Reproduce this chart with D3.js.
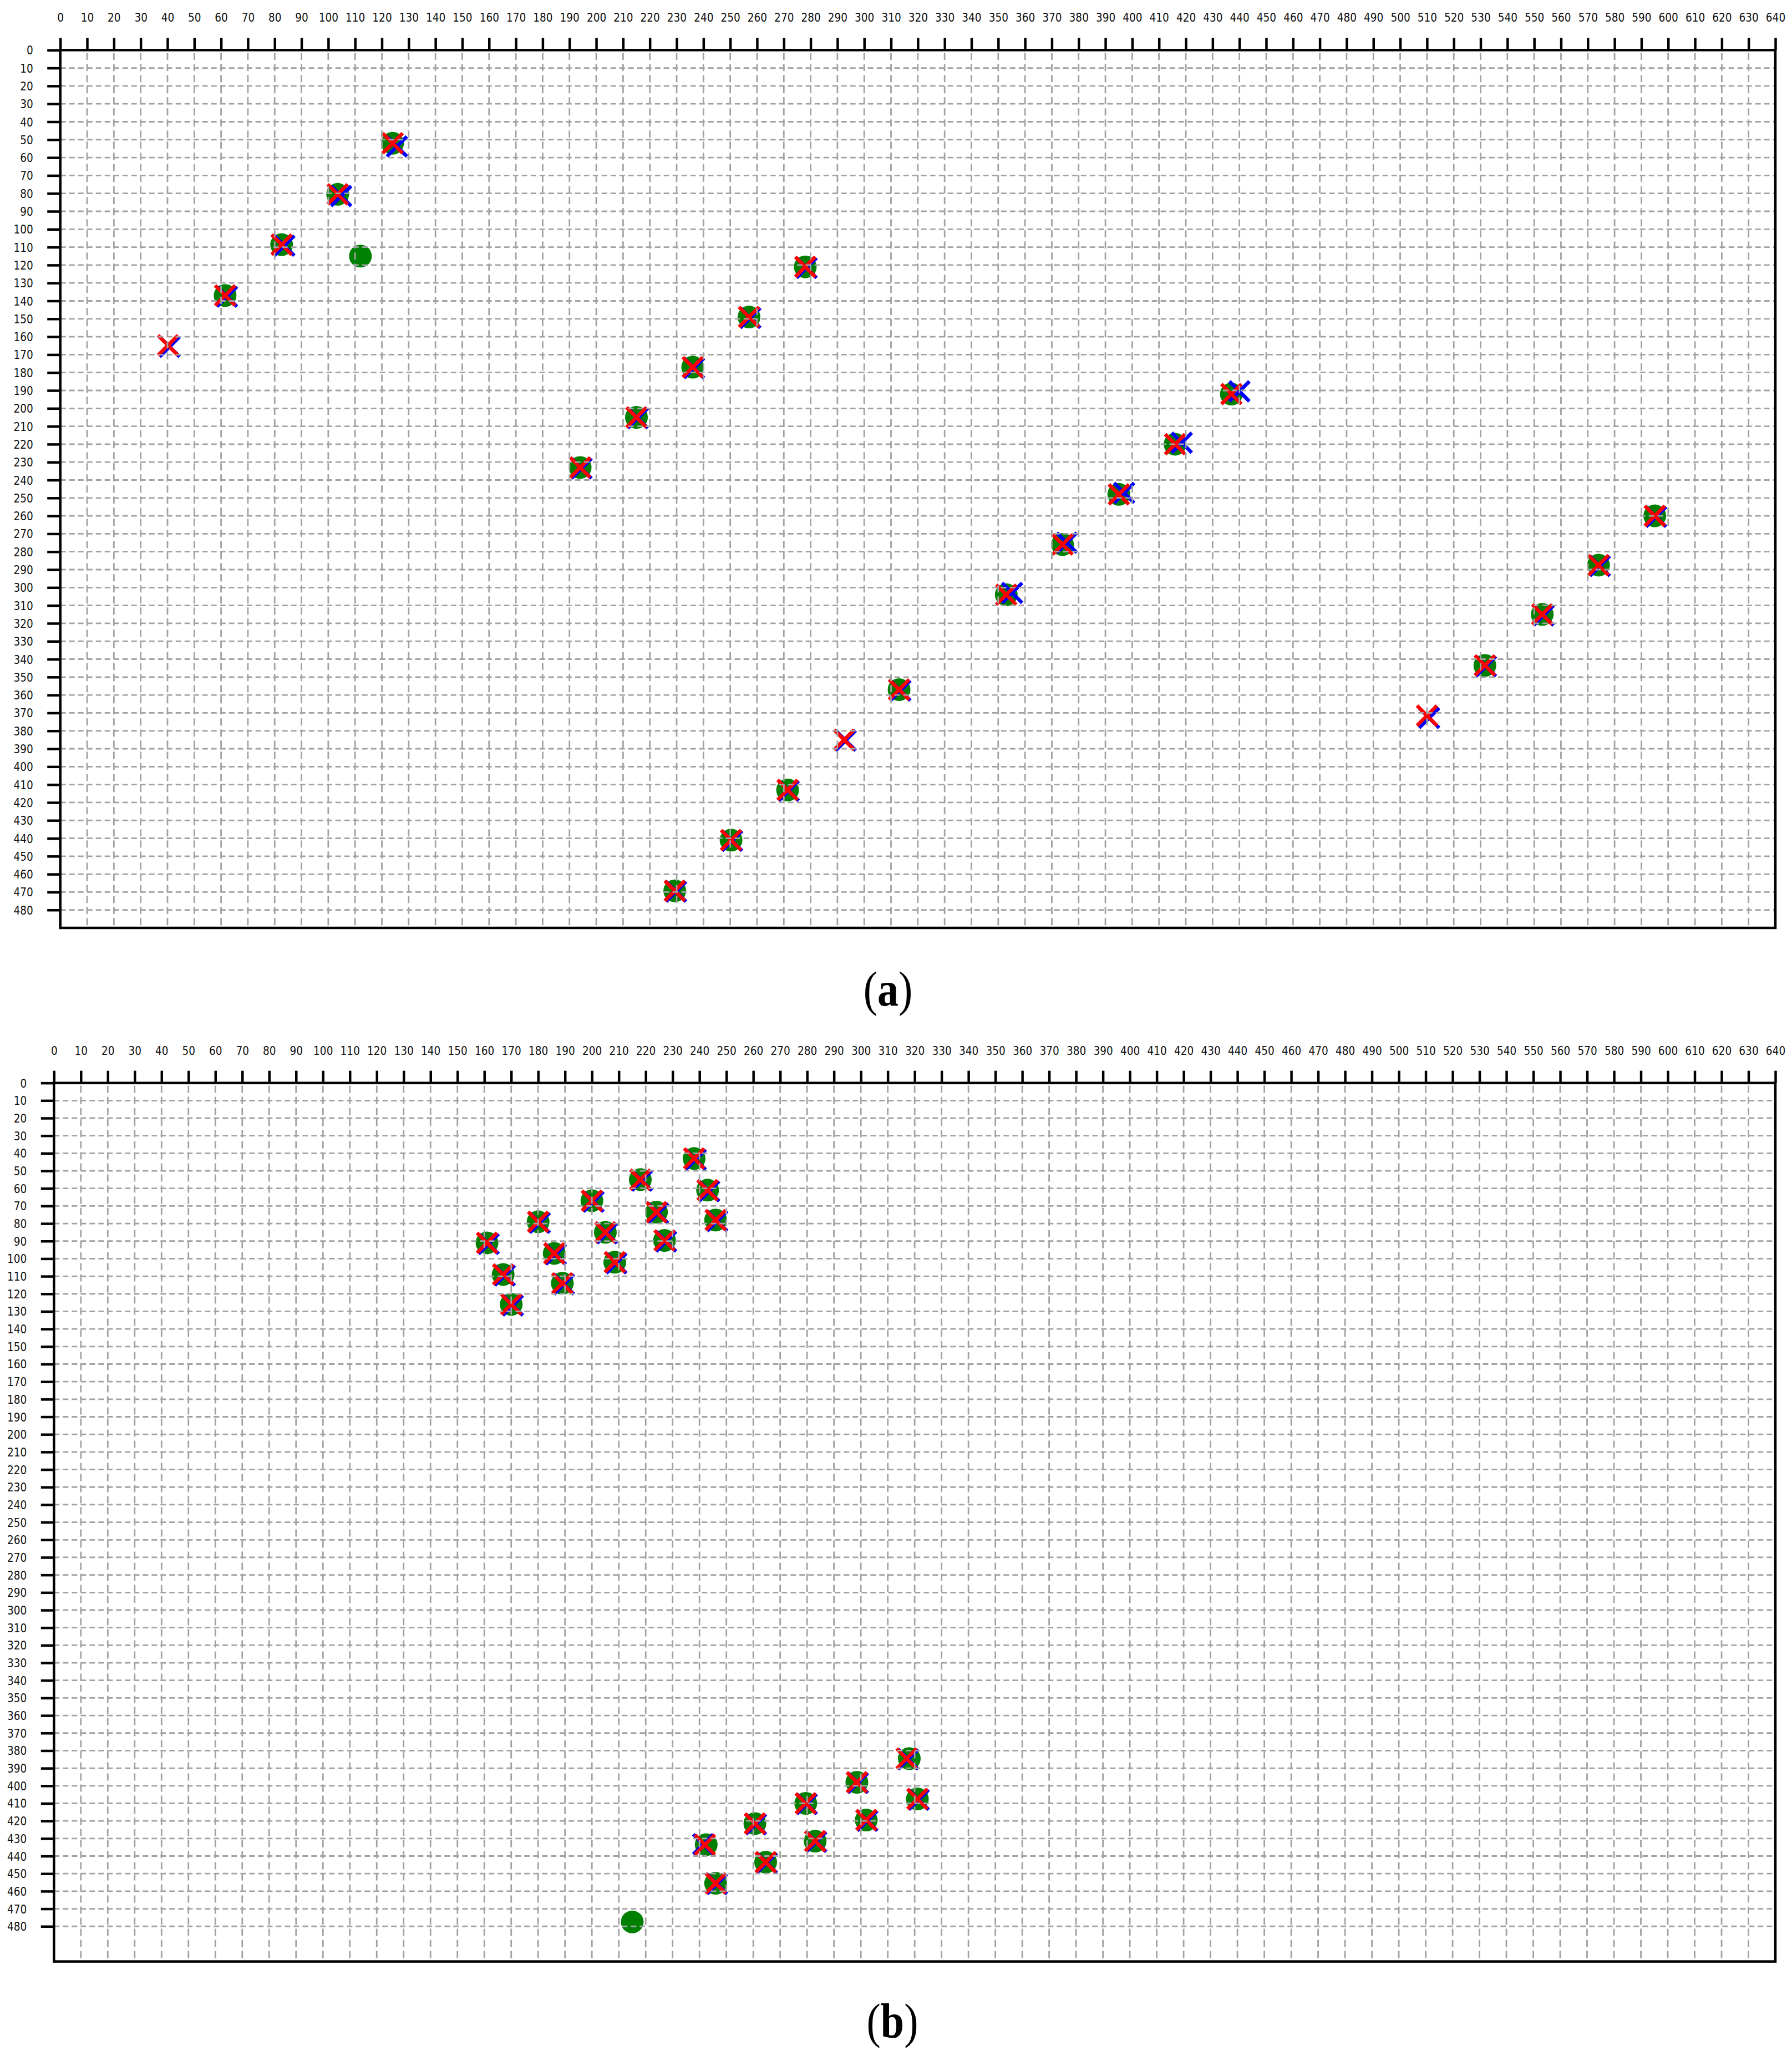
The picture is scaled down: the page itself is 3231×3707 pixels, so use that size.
<!DOCTYPE html>
<html>
<head>
<meta charset="utf-8">
<script src="https://cdn.jsdelivr.net/npm/d3@7"></script>
<style>
  body { margin: 0; background: #fff; }
</style>
</head>
<body>
<svg id="chart" width="3231" height="3707"></svg>
<script>
// tick values shared by both panels
const xTicks = d3.range(0, 641, 10);
const yTicks = d3.range(0, 481, 10);

// panel (a) : green circles, red crosses, blue crosses (x, y in image units)
const aGreen = [
  [124, 52], [103.5, 80.5], [82.6, 108.6], [61.5, 137], [112, 115],
  [278, 121], [257, 149], [236, 177], [215, 205], [194, 233],
  [437, 192], [416, 220], [395, 248], [374, 276], [353, 304],
  [595, 260], [574, 287.5], [553, 315], [531.6, 343.5],
  [313, 357], [271.4, 413], [250.3, 441], [229.3, 469.3]
];
const aRed = [
  [124, 52], [103.5, 80.5], [82.6, 108.6], [61.5, 137], [40.2, 164.8],
  [278, 121], [257, 149], [236, 177], [215, 205], [194, 233],
  [437, 192], [416, 220], [395, 248], [374, 276], [353, 304],
  [595, 260], [574, 287.5], [553, 315], [531.6, 343.5], [510, 371.5],
  [313, 357], [292.5, 385], [271.4, 413], [250.3, 441], [229.3, 469.3]
];
const aBlue = [
  [125.6, 53.8], [104.8, 81.5], [83.6, 109.2], [62.2, 137.6], [40.8, 165.6],
  [278.5, 121.6], [257.5, 149.5], [236.5, 177.5], [215.5, 205.5], [194.5, 233.5],
  [440, 190.5], [418.5, 219.2], [397, 247.2], [375.6, 275], [355.2, 303],
  [595.5, 260.5], [574.5, 288], [553.5, 315.6], [532, 344], [510.8, 372.8],
  [313.5, 357.5], [293.1, 385.4], [271.8, 413.5], [250.7, 441.4], [229.8, 469.7]
];

// panel (b)
const bGreen = [
  [238, 43], [218, 55], [243, 61], [200, 67], [224, 73.5], [246, 78], [180, 79], [205, 85],
  [227, 89.6], [161, 91], [186, 97], [208.5, 102], [167, 109], [189, 114], [170, 126],
  [318, 384.5], [298.5, 398], [321, 407.5], [279.5, 410], [302, 419.5], [260.6, 421.5],
  [283, 431.5], [242.5, 433.5], [264.6, 443.5], [246, 455.5], [215, 477.5]
];
const bRed = [
  [238, 43], [218, 55], [243, 61], [200, 67], [224, 73.5], [246, 78], [180, 79], [205, 85],
  [227, 89.6], [161, 91], [186, 97], [208.5, 102], [167, 109], [189, 114], [170, 126],
  [317, 384.5], [298.5, 398], [321, 407.5], [279.5, 410], [302, 419.5], [260.6, 421.5],
  [283, 431.5], [242, 433.5], [264.6, 443.5], [246, 455.5]
];
const bBlue = [
  [238.6, 43.6], [218.6, 55.6], [243.6, 61.6], [200.6, 67.6], [224.6, 74.1], [246.6, 78.6], [180.6, 79.6], [205.6, 85.6],
  [227.6, 90.2], [161.6, 91.6], [186.6, 97.6], [209.1, 102.6], [167.6, 109.6], [189.6, 114.6], [170.6, 126.6],
  [317.6, 384.9], [298.9, 398.4], [321.5, 407.9], [279.9, 410.4], [302.4, 419.9], [261, 421.9],
  [283.4, 431.9], [241.4, 433.3], [265, 443.9], [246.5, 455.9]
];

const svg = d3.select("#chart");
svg.append("rect").attr("width", 3231).attr("height", 3707).attr("fill", "#fff");

function crossPath(s) {
  return `M${-s},${-s}L${s},${s}M${-s},${s}L${s},${-s}`;
}

function drawPanel(opt) {
  const g = svg.append("g").attr("transform", `translate(${opt.left},${opt.top})`);
  const x = d3.scaleLinear().domain([0, 640]).range([0, opt.width]);
  const y = d3.scaleLinear().domain([0, opt.yMax]).range([0, opt.height]);

  // markers: green circles, then blue crosses, red crosses on top
  g.append("g").selectAll("circle").data(opt.green).join("circle")
    .attr("cx", d => x(d[0])).attr("cy", d => y(d[1])).attr("r", 20.5)
    .attr("fill", "#008000");
  g.append("g").selectAll("path").data(opt.blue).join("path")
    .attr("transform", d => `translate(${x(d[0])},${y(d[1])})`)
    .attr("d", crossPath(18)).attr("stroke", "#0000ff").attr("stroke-width", 6.5).attr("fill", "none");
  g.append("g").selectAll("path").data(opt.red).join("path")
    .attr("transform", d => `translate(${x(d[0])},${y(d[1])})`)
    .attr("d", crossPath(18)).attr("stroke", "#ff0000").attr("stroke-width", 6.5).attr("fill", "none");

  // dashed grid, drawn over the markers like in the original
  g.append("g").selectAll("line").data(xTicks.filter(d => d > 0 && d < 640)).join("line")
    .attr("x1", d => x(d)).attr("x2", d => x(d)).attr("y1", 0).attr("y2", opt.height)
    .attr("stroke", "#a2a2a2").attr("stroke-width", 2.8)
    .attr("stroke-dasharray", "13,7").attr("stroke-dashoffset", -5);
  g.append("g").selectAll("line").data(yTicks.filter(d => d > 0)).join("line")
    .attr("x1", 0).attr("x2", opt.width).attr("y1", d => y(d)).attr("y2", d => y(d))
    .attr("stroke", "#a2a2a2").attr("stroke-width", 2.8).attr("stroke-dasharray", "10,6");

  // frame
  g.append("rect").attr("width", opt.width).attr("height", opt.height)
    .attr("fill", "none").attr("stroke", "#000").attr("stroke-width", 4.5);

  // top axis
  const xa = g.append("g").call(d3.axisTop(x).tickValues(xTicks).tickSize(22).tickSizeOuter(0));
  xa.select(".domain").remove();
  xa.selectAll("line").attr("stroke", "#000").attr("stroke-width", 4.5);
  xa.selectAll("text")
    .attr("x", null).attr("y", null).attr("dy", null)
    .attr("transform", "translate(0,-51) scale(1,1.15)")
    .attr("font-family", "DejaVu Sans").attr("font-size", 18.5).attr("fill", "#111");

  // left axis
  const ya = g.append("g").call(d3.axisLeft(y).tickValues(yTicks).tickSize(23.5).tickSizeOuter(0));
  ya.select(".domain").remove();
  ya.selectAll("line").attr("stroke", "#000").attr("stroke-width", 4.5);
  ya.selectAll("text")
    .attr("x", null).attr("y", null).attr("dy", null)
    .attr("transform", "translate(-49,7.5) scale(1,1.15)")
    .attr("font-family", "DejaVu Sans").attr("font-size", 18.5).attr("fill", "#111");

  // panel caption
  const cap = svg.append("text")
    .attr("transform", `translate(${opt.capX},${opt.capY}) scale(1,1.17)`)
    .attr("text-anchor", "middle")
    .attr("font-family", "Liberation Serif").attr("font-size", 76).attr("fill", "#000");
  cap.append("tspan").text("(");
  cap.append("tspan").attr("font-weight", "bold").text(opt.caption);
  cap.append("tspan").text(")");
}

drawPanel({
  left: 108.7, top: 90.3, width: 3092.3, height: 1582.7, yMax: 490,
  green: aGreen, red: aRed, blue: aBlue,
  caption: "a", capX: 1601, capY: 1813
});

drawPanel({
  left: 97.3, top: 1952.6, width: 3103.7, height: 1584, yMax: 500,
  green: bGreen, red: bRed, blue: bBlue,
  caption: "b", capX: 1609, capY: 3674
});
</script>
</body>
</html>
